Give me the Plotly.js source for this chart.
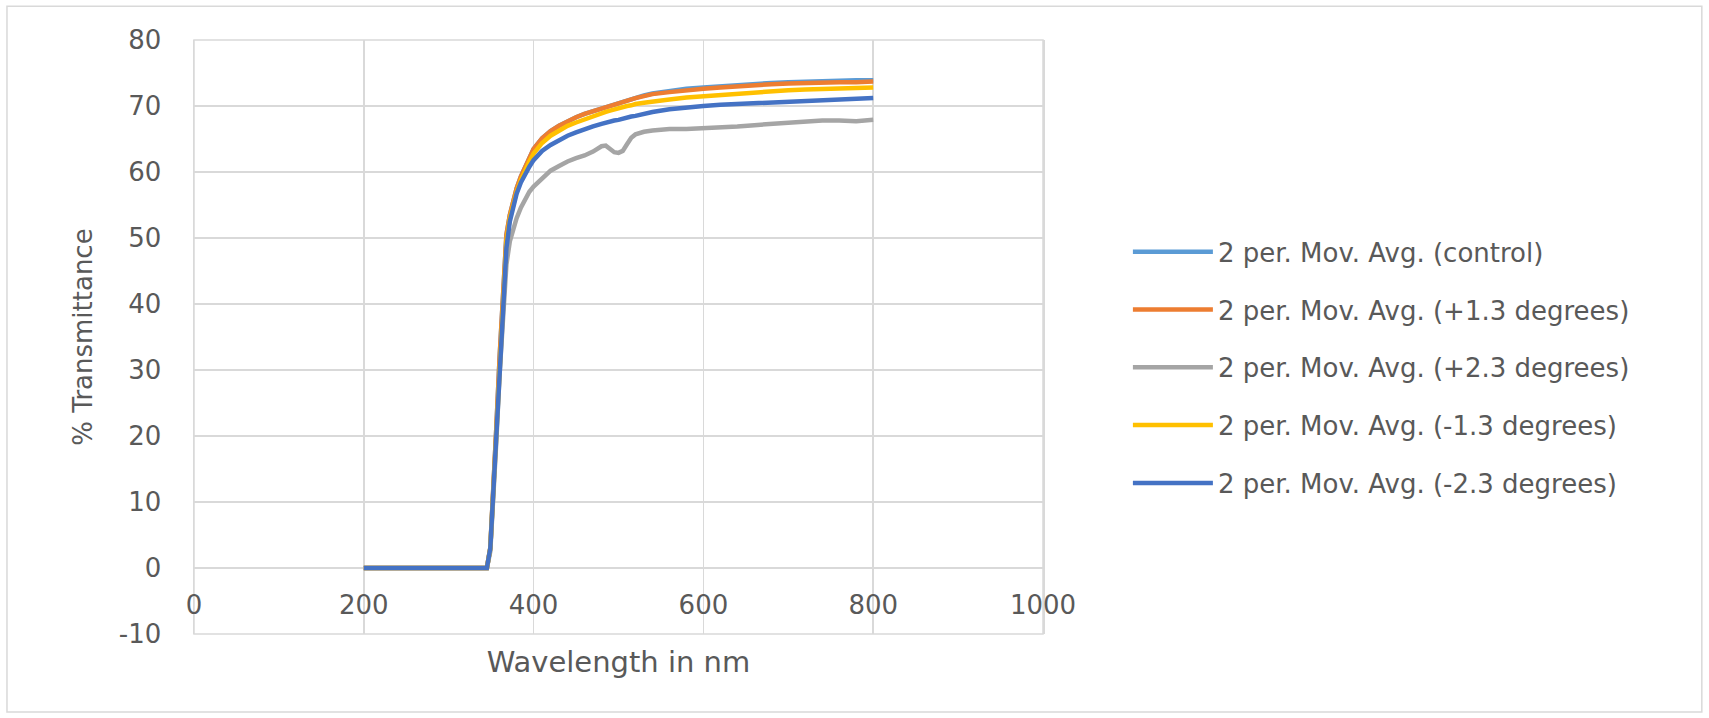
<!DOCTYPE html>
<html>
<head>
<meta charset="utf-8">
<script src="https://cdn.plot.ly/plotly-3.0.1.min.js"></script>
<style>
html, body { margin: 0; padding: 0; background: #ffffff; }
#chart { width: 1709px; height: 718px; }
</style>
</head>
<body>
<div id="chart"></div>
<script>
// Wavelength (nm) sample points
const wavelength = [200, 345, 349, 352, 356, 360, 364, 368, 372, 376, 380, 385, 390, 395, 400,
  410, 420, 430, 440, 450, 460, 470, 480, 485, 490, 495, 500, 505, 510, 515, 520, 530, 540,
  560, 580, 600, 620, 640, 660, 680, 700, 720, 740, 760, 780, 800];

const seriesNames = [
  "2 per. Mov. Avg. (control)",
  "2 per. Mov. Avg. (+1.3 degrees)",
  "2 per. Mov. Avg. (+2.3 degrees)",
  "2 per. Mov. Avg. (-1.3 degrees)",
  "2 per. Mov. Avg. (-2.3 degrees)"
];

// % Transmittance per series
const control = [0, 0, 3, 10, 21, 32, 42, 50.5, 53.5, 55.8, 57.5, 59.3, 60.8, 62.2, 63.5,
  65.1, 66.2, 67.0, 67.7, 68.3, 68.8, 69.2, 69.6, 69.9, 70.1, 70.3, 70.5, 70.7, 70.9, 71.1,
  71.3, 71.6, 71.9, 72.3, 72.6, 72.8, 73.0, 73.2, 73.4, 73.5, 73.6, 73.7, 73.8, 73.8, 73.9, 73.9];

const plus13 = [0, 0, 3, 10, 21, 32, 42, 50.5, 53.5, 55.8, 57.5, 59.3, 60.8, 62.2, 63.5,
  65.1, 66.2, 67.0, 67.7, 68.3, 68.8, 69.2, 69.6, 69.9, 70.1, 70.3, 70.5, 70.7, 70.9, 71.1,
  71.2, 71.5, 71.8, 72.1, 72.4, 72.6, 72.8, 73.0, 73.1, 73.3, 73.4, 73.5, 73.5, 73.6, 73.6, 73.7];

const plus23 = [0, 0, 2.5, 9, 19, 29.5, 39, 46, 49.5, 51.5, 53, 54.6, 56, 57, 57.8,
  59, 60.2, 60.9, 61.6, 62.1, 62.5, 63.1, 63.9, 64.0, 63.5, 63.0, 62.9, 63.2, 64.2, 65.2,
  65.7, 66.1, 66.3, 66.5, 66.5, 66.6, 66.8, 66.9, 67.1, 67.3, 67.5, 67.7, 67.8, 67.8, 67.7, 67.9];

const minus13 = [0, 0, 3, 10, 20.5, 31, 41, 49.5, 53, 55.2, 57, 58.8, 60.3, 61.6, 62.8,
  64.4, 65.5, 66.3, 67.0, 67.5, 68.0, 68.5, 68.9, 69.1, 69.3, 69.5, 69.6, 69.8, 70.0, 70.1,
  70.3, 70.5, 70.7, 71.0, 71.3, 71.5, 71.7, 71.9, 72.1, 72.2, 72.4, 72.5, 72.6, 72.6, 72.7, 72.8];

const minus23 = [0, 0, 3, 10, 20, 30.5, 40.5, 48.5, 52.5, 54.8, 56.7, 58.4, 59.7, 60.8, 61.8,
  63.2, 64.1, 64.9, 65.5, 66.0, 66.5, 66.9, 67.3, 67.5, 67.6, 67.8, 67.9, 68.1, 68.2, 68.4,
  68.5, 68.8, 69.1, 69.5, 69.8, 70.0, 70.2, 70.3, 70.4, 70.6, 70.7, 70.8, 70.9, 71.0, 71.1, 71.2];

const xTicks = [0, 200, 400, 600, 800, 1000];
const yTicks = [-10, 0, 10, 20, 30, 40, 50, 60, 70, 80];

const seriesValues = [control, plus13, plus23, minus13, minus23];
const seriesColors = ["#5B9BD5", "#ED7D31", "#A5A5A5", "#FFC000", "#4472C4"];

const FONT = "DejaVu Sans, Arial, sans-serif";
const TEXT = "#595959";
const GRID = "#D9D9D9";

const traces = seriesValues.map((vals, i) => ({
  type: "scatter",
  mode: "lines",
  x: wavelength,
  y: vals,
  name: seriesNames[i],
  legendgroup: "g" + i,
  line: { color: seriesColors[i], width: 4.5 }
}));

const layout = {
  width: 1709,
  height: 718,
  margin: { l: 194, r: 666, t: 40, b: 84 },
  paper_bgcolor: "#ffffff",
  plot_bgcolor: "#ffffff",
  font: { family: FONT, color: TEXT, size: 26 },
  showlegend: true,
  xaxis: {
    range: [0, 1000],
    tickvals: xTicks,
    ticktext: xTicks.map(String),
    showgrid: true,
    gridcolor: GRID,
    gridwidth: 1.5,
    zeroline: false,
    showline: false,
    anchor: "free",
    position: 10 / 90,
    ticks: "outside",
    ticklen: 14,
    tickcolor: "rgba(0,0,0,0)",
    tickfont: { family: FONT, color: TEXT, size: 26 },
    automargin: false,
    title: { text: "Wavelength in nm", font: { family: FONT, color: TEXT, size: 29 }, standoff: 32 }
  },
  yaxis: {
    range: [-10, 80],
    tickvals: yTicks,
    ticktext: yTicks.map(v => v < 0 ? "-" + Math.abs(v) : String(v)),
    showgrid: true,
    gridcolor: GRID,
    gridwidth: 1.5,
    zeroline: false,
    showline: true,
    mirror: true,
    linecolor: GRID,
    linewidth: 1.5,
    ticks: "outside",
    ticklen: 26,
    tickcolor: "rgba(0,0,0,0)",
    tickfont: { family: FONT, color: TEXT, size: 26 },
    automargin: false,
    title: { text: "% Transmittance", font: { family: FONT, color: TEXT, size: 26 }, standoff: 18 }
  },
  legend: {
    x: 1.10,
    xanchor: "left",
    y: 0.683,
    yanchor: "top",
    font: { family: FONT, color: TEXT, size: 26 },
    bgcolor: "rgba(0,0,0,0)",
    tracegroupgap: 21,
    itemwidth: 80
  },
  shapes: [
    {
      type: "rect", xref: "paper", yref: "paper",
      x0: -0.2203, x1: 1.776, y0: -0.1313, y1: 1.057,
      line: { color: GRID, width: 1.5 },
      fillcolor: "rgba(0,0,0,0)",
      layer: "below"
    },
    {
      type: "rect", xref: "paper", yref: "paper",
      x0: 0, x1: 1, y0: 0, y1: 1,
      line: { color: GRID, width: 1.5 },
      fillcolor: "rgba(0,0,0,0)",
      layer: "below"
    }
  ]
};

Plotly.newPlot("chart", traces, layout, { displayModeBar: false, staticPlot: true });
</script>
</body>
</html>
